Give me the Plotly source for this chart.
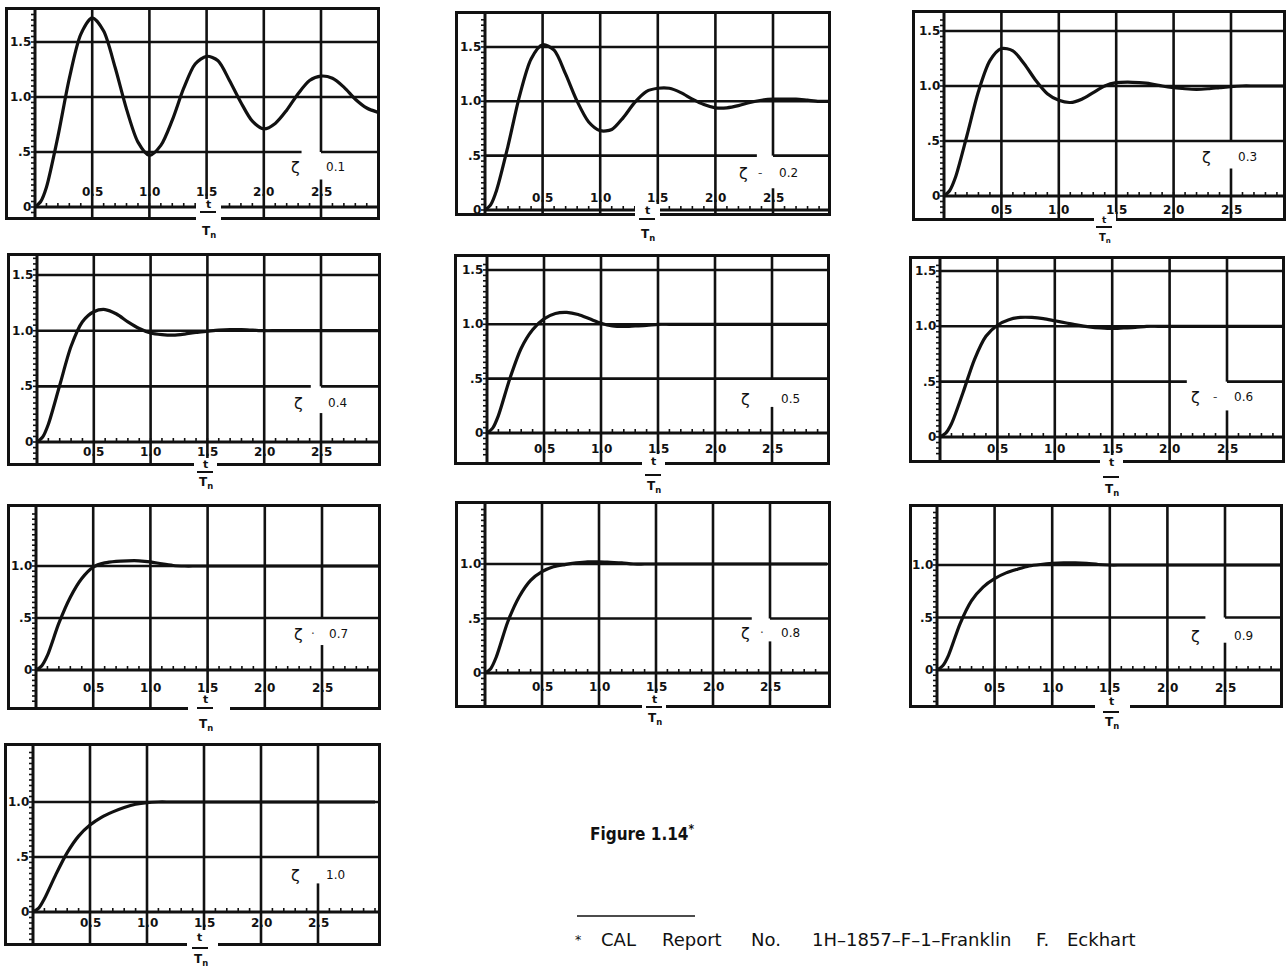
import plotly.graph_objects as go

W, H = 1288, 979
INK = "#111111"

# ---------------- data ----------------
t_norm = [0, 0.05, 0.1, 0.2, 0.3, 0.4, 0.5, 0.6, 0.7, 0.8, 0.9, 1.0,
          1.1, 1.2, 1.3, 1.4, 1.5, 1.6, 1.7, 1.8, 1.9, 2.0,
          2.1, 2.2, 2.3, 2.4, 2.5, 2.6, 2.7, 2.8, 2.9, 3.0]

zeta_labels = ["0.1", "0.2", "0.3", "0.4", "0.5", "0.6", "0.7", "0.8", "0.9", "1.0"]

resp_z01 = [0, 0.05, 0.18, 0.64, 1.17, 1.57, 1.72, 1.60, 1.27, 0.89, 0.59, 0.47,
            0.56, 0.79, 1.08, 1.30, 1.37, 1.33, 1.15, 0.95, 0.78, 0.71,
            0.76, 0.88, 1.03, 1.15, 1.19, 1.17, 1.09, 0.98, 0.90, 0.86]
resp_z02 = [0, 0.05, 0.18, 0.59, 1.05, 1.39, 1.52, 1.47, 1.25, 1.00, 0.81, 0.73,
            0.74, 0.85, 0.99, 1.09, 1.12, 1.12, 1.08, 1.02, 0.97, 0.94,
            0.94, 0.96, 0.99, 1.01, 1.02, 1.02, 1.02, 1.01, 1.00, 1.00]
resp_z03 = [0, 0.05, 0.17, 0.55, 0.95, 1.23, 1.34, 1.32, 1.20, 1.05, 0.93, 0.87,
            0.85, 0.88, 0.94, 1.00, 1.03, 1.035, 1.03, 1.02, 1.00, 0.985,
            0.975, 0.97, 0.975, 0.985, 0.995, 1.00, 1.00, 1.00, 1.00, 1.00]
resp_z04 = [0, 0.045, 0.16, 0.51, 0.86, 1.08, 1.17, 1.19, 1.15, 1.08, 1.02, 0.98,
            0.965, 0.96, 0.97, 0.985, 0.995, 1.005, 1.01, 1.01, 1.005, 1.00,
            1.00, 1.00, 1.00, 1.00, 1.00, 1.00, 1.00, 1.00, 1.00, 1.00]
resp_z05 = [0, 0.045, 0.16, 0.50, 0.78, 0.95, 1.05, 1.10, 1.11, 1.09, 1.05, 1.01,
            0.985, 0.98, 0.985, 0.99, 1.00, 1.00, 1.00, 1.00, 1.00, 1.00,
            1.00, 1.00, 1.00, 1.00, 1.00, 1.00, 1.00, 1.00, 1.00, 1.00]
resp_z06 = [0, 0.035, 0.12, 0.40, 0.70, 0.91, 1.01, 1.06, 1.08, 1.08, 1.07, 1.05,
            1.03, 1.01, 0.995, 0.985, 0.98, 0.985, 0.99, 1.00, 1.00, 1.00,
            1.00, 1.00, 1.00, 1.00, 1.00, 1.00, 1.00, 1.00, 1.00, 1.00]
resp_z07 = [0, 0.04, 0.14, 0.45, 0.70, 0.88, 0.99, 1.03, 1.045, 1.05, 1.05, 1.04,
            1.02, 1.005, 1.00, 1.00, 1.00, 1.00, 1.00, 1.00, 1.00, 1.00,
            1.00, 1.00, 1.00, 1.00, 1.00, 1.00, 1.00, 1.00, 1.00, 1.00]
resp_z08 = [0, 0.04, 0.15, 0.47, 0.70, 0.85, 0.93, 0.975, 0.995, 1.01, 1.02, 1.02,
            1.015, 1.01, 1.00, 1.00, 1.00, 1.00, 1.00, 1.00, 1.00, 1.00,
            1.00, 1.00, 1.00, 1.00, 1.00, 1.00, 1.00, 1.00, 1.00, 1.00]
resp_z09 = [0, 0.04, 0.14, 0.44, 0.66, 0.79, 0.87, 0.925, 0.96, 0.99, 1.005, 1.015,
            1.02, 1.02, 1.015, 1.005, 1.00, 1.00, 1.00, 1.00, 1.00, 1.00,
            1.00, 1.00, 1.00, 1.00, 1.00, 1.00, 1.00, 1.00, 1.00, 1.00]
resp_z10 = [0, 0.035, 0.12, 0.34, 0.54, 0.69, 0.79, 0.86, 0.91, 0.95, 0.98, 0.995,
            1.00, 1.00, 1.00, 1.00, 1.00, 1.00, 1.00, 1.00, 1.00, 1.00,
            1.00, 1.00, 1.00, 1.00, 1.00, 1.00, 1.00, 1.00, 1.00, 1.00]
responses = [resp_z01, resp_z02, resp_z03, resp_z04, resp_z05,
             resp_z06, resp_z07, resp_z08, resp_z09, resp_z10]

x_tick_vals = [0.5, 1.0, 1.5, 2.0, 2.5]
x_tick_text = ["0.5", "1.0", "1.5", "2.0", "2.5"]
y_tick_vals_full = [0, 0.5, 1.0, 1.5]
y_tick_text_full = ["0", ".5", "1.0", "1.5"]
y_tick_vals_short = [0, 0.5, 1.0]
y_tick_text_short = ["0", ".5", "1.0"]
zeta_sep = ["", "-", "", "", "", "-", "\u00b7", "\u00b7", "", ""]

title_text = "Figure 1.14<sup>*</sup>"
footnote_words = ["<sup>*</sup>", "CAL", "Report", "No.", "1H\u20131857\u2013F\u20131\u2013Franklin", "F.", "Eckhart"]

# ---------------- layout (pixels) ----------------
footnote_cx = [578, 618, 692, 766, 911, 1042, 1101]

panels = [
    dict(L=8, R=377, T=10, B=217, x0=35, sx=114.4, y0=207, sy=110, lab=15, hend=2.33, vlow=0.25,
         zx=295, zy=167, sepx=312, vx=335, cx=208, ty=204, by=212, ny=232, tfs=11,
         gap=(196, 199, 221, 221), full=True),
    dict(L=458, R=828, T=14, B=213, x0=485, sx=115.2, y0=210, sy=108.7, lab=12, hend=2.36, vlow=0.2,
         zx=743, zy=173, sepx=760, vx=788, cx=647, ty=210, by=219, ny=235, tfs=11,
         gap=(635, 204, 660, 221), full=True),
    dict(L=915, R=1283, T=13, B=218, x0=944, sx=114.8, y0=196, sy=110, lab=-14, hend=2.5, vlow=0.25,
         zx=1206, zy=157, sepx=1222, vx=1247, cx=1104, ty=220, by=227, ny=239, tfs=9,
         gap=(1094, 212, 1116, 224), full=True),
    dict(L=10, R=378, T=256, B=463, x0=37, sx=113.6, y0=442, sy=111.3, lab=-10, hend=2.41, vlow=0.26,
         zx=298, zy=403, sepx=314, vx=337, cx=205, ty=464, by=472, ny=483, tfs=11,
         gap=(194, 458, 217, 468), full=True),
    dict(L=457, R=827, T=257, B=462, x0=487, sx=114, y0=433, sy=108.7, lab=-16, hend=2.5, vlow=0.24,
         zx=746, zy=399, sepx=765, vx=790, cx=653, ty=461, by=475, ny=487, tfs=11,
         gap=(642, 454, 665, 466), full=True),
    dict(L=912, R=1282, T=259, B=460, x0=940, sx=114.8, y0=437, sy=110.7, lab=-12, hend=2.15, vlow=0.24,
         zx=1195, zy=397, sepx=1215, vx=1243, cx=1111, ty=463, by=477, ny=490, tfs=11,
         gap=(1100, 455, 1123, 466), full=True),
    dict(L=10, R=378, T=507, B=707, x0=36, sx=114.4, y0=670, sy=104, lab=-18, hend=2.5, vlow=0.24,
         zx=298, zy=634, sepx=313, vx=338, cx=205, ty=699, by=708, ny=725, tfs=11,
         gap=(188, 693, 230, 712), full=False),
    dict(L=458, R=828, T=504, B=705, x0=485, sx=114, y0=673, sy=109, lab=-14, hend=2.34, vlow=0.29,
         zx=745, zy=633, sepx=762, vx=790, cx=654, ty=699, by=707, ny=719, tfs=11,
         gap=(642, 693, 666, 709), full=False),
    dict(L=912, R=1280, T=507, B=705, x0=937, sx=115.2, y0=670, sy=105, lab=-18, hend=2.33, vlow=0.26,
         zx=1195, zy=636, sepx=1215, vx=1243, cx=1111, ty=701, by=712, ny=723, tfs=11,
         gap=(1095, 695, 1130, 709), full=False),
    dict(L=7, R=378, T=746, B=943, x0=33, sx=114, y0=912, sy=110, lab=-11, hend=2.5, vlow=0.26,
         zx=295, zy=875, sepx=312, vx=335, cx=200, ty=937, by=948, ny=960, tfs=11,
         gap=(187, 930, 218, 946), full=False),
]


def px_x(x):
    return x / W


def px_y(y):
    return 1 - y / H


fig = go.Figure()
shapes = []
annotations = []
GRID_W = 2.6
LAB_FONT = dict(family="DejaVu Sans", size=12, color=INK, weight="bold")

for i, p in enumerate(panels):
    k = "" if i == 0 else str(i + 1)
    xa, ya = "x" + k, "y" + k
    xmin, xmax = (p["L"] - p["x0"]) / p["sx"], (p["R"] - p["x0"]) / p["sx"]
    ymin, ymax = (p["y0"] - p["B"]) / p["sy"], (p["y0"] - p["T"]) / p["sy"]

    axis_common = dict(showline=True, mirror=True, linecolor=INK, linewidth=2.6,
                       showgrid=False, zeroline=False, showticklabels=False, ticks="",
                       fixedrange=True)
    fig.layout["xaxis" + k] = dict(domain=[px_x(p["L"]), px_x(p["R"])], range=[xmin, xmax],
                                   anchor=ya, **axis_common)
    fig.layout["yaxis" + k] = dict(domain=[px_y(p["B"]), px_y(p["T"])], range=[ymin, ymax],
                                   anchor=xa, **axis_common)

    fig.add_trace(go.Scatter(x=t_norm, y=responses[i], mode="lines",
                             line=dict(color=INK, width=3.2, shape="spline", smoothing=0.8),
                             xaxis=xa, yaxis=ya, hoverinfo="skip", showlegend=False))

    def seg(x0, y0, x1, y1, w=GRID_W, layer="below"):
        shapes.append(dict(type="line", xref=xa, yref=ya, x0=x0, y0=y0, x1=x1, y1=y1,
                           line=dict(color=INK, width=w), layer=layer))

    # vertical grid lines
    for v in x_tick_vals:
        if v == 2.5:
            seg(v, ymin, v, p["vlow"])
            seg(v, 0.5, v, ymax)
        else:
            seg(v, ymin, v, ymax)
    # vertical axis at t = 0
    seg(0, ymin, 0, ymax, w=3)
    # horizontal lines
    yvals = y_tick_vals_full if p["full"] else y_tick_vals_short
    ytxt = y_tick_text_full if p["full"] else y_tick_text_short
    for v in yvals:
        if v == 0:
            seg(0, 0, xmax, 0, w=3)
        elif v == 0.5:
            seg(0, 0.5, p["hend"], 0.5)
            seg(2.5, 0.5, xmax, 0.5)
        else:
            seg(0, v, xmax, v)
    # minor ticks on the time axis
    n = 1
    while n * 0.1 < xmax - 0.02:
        shapes.append(dict(type="line", xref=xa, yref=ya, ysizemode="pixel", yanchor=0,
                           x0=n * 0.1, x1=n * 0.1, y0=0, y1=4,
                           line=dict(color=INK, width=1.6), layer="below"))
        n += 1
    # minor ticks on the response axis
    m = int(ymin / 0.05)
    while m * 0.05 < ymax - 0.02:
        if m * 0.05 > ymin + 0.02:
            shapes.append(dict(type="line", xref=xa, yref=ya, xsizemode="pixel", xanchor=0,
                               x0=-4, x1=0, y0=m * 0.05, y1=m * 0.05,
                               line=dict(color=INK, width=1.6), layer="below"))
        m += 1

    # tick labels
    for v, s in zip(yvals, ytxt):
        annotations.append(dict(xref=xa, yref=ya, x=0, y=v, text=s, showarrow=False,
                                xanchor="right", yanchor="middle", xshift=-2, font=LAB_FONT))
    for v, s in zip(x_tick_vals, x_tick_text):
        annotations.append(dict(xref=xa, yref=ya, x=v, y=0, text=s, showarrow=False,
                                xanchor="center", yanchor="middle", yshift=p["lab"], font=LAB_FONT))

    # damping-ratio label
    annotations.append(dict(xref="paper", yref="paper", x=px_x(p["zx"]), y=px_y(p["zy"]),
                            text="\u03b6", showarrow=False, xanchor="center", yanchor="middle",
                            font=dict(family="DejaVu Sans", size=16, color=INK)))
    if zeta_sep[i]:
        annotations.append(dict(xref="paper", yref="paper", x=px_x(p["sepx"]), y=px_y(p["zy"]),
                                text=zeta_sep[i], showarrow=False, xanchor="center", yanchor="middle",
                                font=dict(family="DejaVu Sans", size=12, color="#444444")))
    annotations.append(dict(xref="paper", yref="paper", x=px_x(p["vx"]), y=px_y(p["zy"]),
                            text=zeta_labels[i], showarrow=False, xanchor="center", yanchor="middle",
                            font=dict(family="DejaVu Sans", size=12, color=INK)))

    # t / T_n axis label straddling the bottom edge
    g = p["gap"]
    shapes.append(dict(type="rect", xref="paper", yref="paper",
                       x0=px_x(g[0]), x1=px_x(g[2]), y0=px_y(g[3]), y1=px_y(g[1]),
                       fillcolor="white", line=dict(width=0), layer="above"))
    shapes.append(dict(type="line", xref="paper", yref="paper",
                       x0=px_x(p["cx"] - 8), x1=px_x(p["cx"] + 8), y0=px_y(p["by"]), y1=px_y(p["by"]),
                       line=dict(color=INK, width=2), layer="above"))
    annotations.append(dict(xref="paper", yref="paper", x=px_x(p["cx"]), y=px_y(p["ty"]),
                            text="t", showarrow=False, xanchor="center", yanchor="middle",
                            font=dict(family="DejaVu Sans", size=p["tfs"], color=INK, weight="bold")))
    annotations.append(dict(xref="paper", yref="paper", x=px_x(p["cx"] + 1), y=px_y(p["ny"]),
                            text="T<sub>n</sub>", showarrow=False, xanchor="center", yanchor="middle",
                            font=dict(family="DejaVu Sans", size=p["tfs"] + 1, color=INK, weight="bold")))

# figure caption and footnote
annotations.append(dict(xref="paper", yref="paper", x=px_x(588), y=px_y(833), text=title_text,
                        showarrow=False, xanchor="left", yanchor="middle",
                        font=dict(family="Liberation Sans Narrow, DejaVu Sans Condensed, Liberation Sans",
                                  size=17, color=INK, weight="bold")))
shapes.append(dict(type="line", xref="paper", yref="paper", x0=px_x(577), x1=px_x(695),
                   y0=px_y(916), y1=px_y(916), line=dict(color=INK, width=1.5)))
for wtxt, wx in zip(footnote_words, footnote_cx):
    annotations.append(dict(xref="paper", yref="paper", x=px_x(wx), y=px_y(939), text=wtxt,
                            showarrow=False, xanchor="center", yanchor="middle",
                            font=dict(family="DejaVu Sans", size=18, color=INK)))

fig.update_layout(width=W, height=H, margin=dict(l=0, r=0, t=0, b=0),
                  paper_bgcolor="white", plot_bgcolor="white",
                  shapes=shapes, annotations=annotations, showlegend=False)

fig.write_html("out.html", config={"displayModeBar": False},
               post_script="document.body.style.margin='0';document.body.style.overflow='hidden';")
